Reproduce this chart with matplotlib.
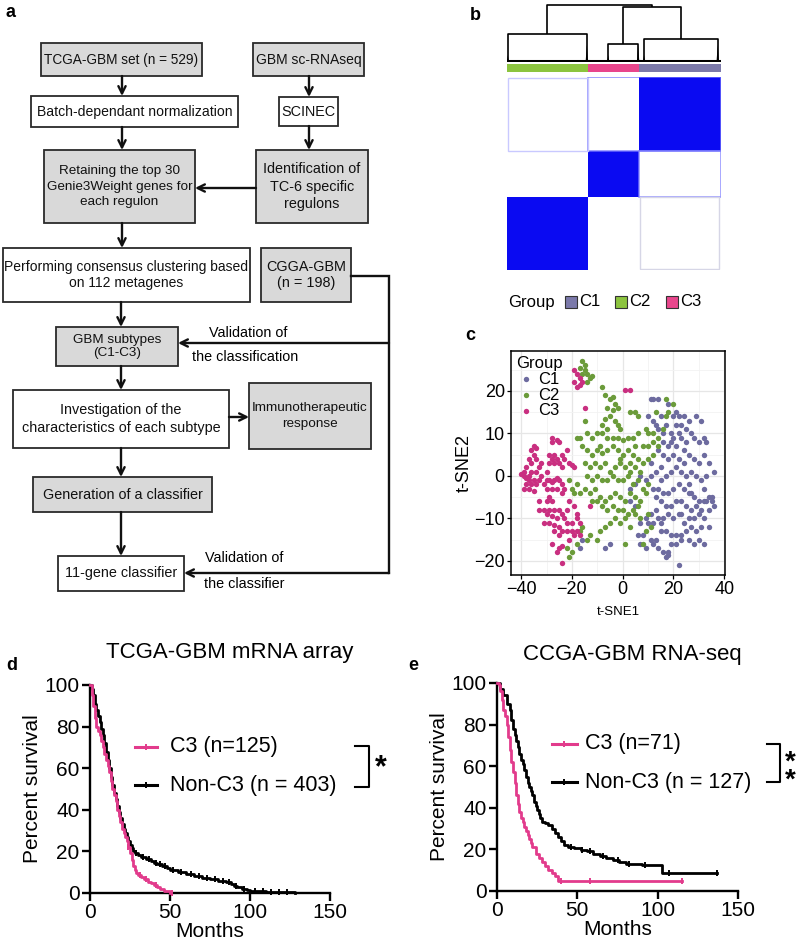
import numpy as np
import matplotlib
matplotlib.use('Agg')
import matplotlib.pyplot as plt
from matplotlib.patches import Rectangle
from matplotlib.colors import LinearSegmentedColormap

plt.rcParams['font.family'] = ['Liberation Sans', 'DejaVu Sans']

W, H = 800, 948

# ---------------- data ----------------
group_names = ['C1', 'C2', 'C3']
bar_colors = {'C1': '#7b79aa', 'C2': '#8cc43f', 'C3': '#e8468c'}
dot_colors = {'C1': '#6d6b9f', 'C2': '#6b9b3a', 'C3': '#c92f80'}

# consensus clustering (panel b), columns left -> right
cc_order = ['C2', 'C3', 'C1']
cc_sizes = [201, 125, 202]
cc_block = [[1, 0, 0],
            [0, 1, 0],
            [0, 0, 1]]
dend_node_h = {'C2': 0.49, 'C3': 0.32, 'C1': 0.40}
dend_child_pos = {'C2': (0.01, 0.98), 'C3': (0.39, 0.98), 'C1': (0.06, 0.96)}
dend_c3c1_h = 0.965
dend_root_h = 1.0

# t-SNE (panel c)
c1_tsne = [(11, 18), (12, 18), (14, 18), (18, 17), (10, 14), (12, 13), (13, 12), (15, 14), (17, 12), (20, 14),
           (21, 15), (22, 14), (24, 14), (26, 13), (21, 12), (19, 10), (20, 9), (22, 10), (23, 9), (25, 8),
           (27, 10), (28, 9), (30, 8), (32, 9), (33, 8), (16, 8), (18, 7), (14, 6), (16, 5), (18, 4),
           (20, 5), (22, 4), (24, 6), (26, 5), (28, 4), (30, 3), (32, 5), (34, 3), (36, 1), (33, 0),
           (31, -1), (29, 0), (27, 1), (25, 0), (23, 1), (21, 2), (19, 1), (17, 0), (15, 2), (13, 1),
           (11, 0), (9, -1), (7, 0), (5, -2), (3, -3), (12, -3), (14, -3), (16, -4), (18, -4), (20, -3),
           (22, -2), (24, -3), (26, -4), (28, -5), (30, -6), (32, -6), (34, -5), (35, -6), (36, -7), (34, -8),
           (31, -8), (29, -7), (27, -8), (25, -7), (23, -6), (21, -6), (19, -7), (17, -7), (15, -6), (13, -8),
           (11, -9), (9, -10), (7, -11), (10, -11), (12, -11), (14, -10), (16, -10), (18, -9), (20, -10), (22, -9),
           (24, -11), (26, -10), (28, -10), (30, -9), (32, -10), (34, -12), (31, -12), (29, -13), (27, -12), (25, -13),
           (23, -14), (21, -14), (19, -14), (17, -13), (15, -13), (13, -15), (11, -15), (8, -14), (6, -14), (7, -16),
           (9, -17), (12, -16), (14, -17), (16, -18), (18, -18), (19, -16), (21, -16), (23, -15), (26, -15), (28, -16),
           (30, -15), (32, -16), (17, -19), (18, -18.5), (22, -21), (-5, -16), (-7, -17), (-17, -17), (-16, -15), (3, -6),
           (5, -7), (13, -5), (15, -1), (11, 3), (14, 11), (16, 10), (19, 8), (23, 12), (25, 11), (31, 13),
           (29, 14), (24, 3), (26, -2), (32, -3), (27, -4), (35, -5), (33, -6), (21, 7), (23, -9), (15, -11)]
c2_tsne = [(-16, 27), (-15, 26), (-17, 25.5), (-15, 25), (-14, 24), (-13, 23), (-12, 23.5), (-14, 22), (-16, 24), (-8, 21),
           (-7, 19), (-5, 18), (-4, 18.5), (-3, 17), (-6, 16), (-4, 15.5), (-2, 16), (-5, 14), (-3, 13), (-7, 13.5),
           (-8, 12), (-6, 11), (-2, 12), (-1, 11), (3, 15), (5, 15), (6, 14), (-15, 13), (-14, 10), (-18, 9),
           (-17, 9), (-12, 9), (-10, 10), (-8, 10), (-6, 9), (-4, 9), (-2, 9), (0, 8.5), (2, 9), (4, 9),
           (6, 10), (9, 11), (10, 10), (12, 10), (14, 9), (16, 11), (17, 14), (18, 15), (20, 17), (17, 18),
           (13, 15), (8, 7), (10, 7), (12, 8), (14, 7), (-16, 7), (-14, 6), (-12, 5), (-10, 6), (-8, 5.5),
           (-6, 6), (-4, 7), (-2, 6), (0, 5), (2, 6), (4, 5), (6, 4), (8, 3), (10, 4), (12, 5),
           (-15, 3), (-13, 2), (-11, 3), (-9, 2), (-7, 3), (-5, 1), (-3, 2), (-1, 3), (1, 2), (3, 1),
           (5, 2), (7, 1), (-14, 0), (-12, -1), (-10, 0), (-8, -1), (-6, -1), (-4, 0), (-2, -1), (0, -1),
           (2, 0), (4, -2), (6, -1), (8, -3), (10, -2), (-18, -2), (-19, -4), (-17, -4), (-15, -3), (-13, -4),
           (-11, -3), (-9, -5), (-7, -6), (-5, -5), (-3, -4), (-1, -5), (1, -6), (3, -4), (5, -5), (7, -6),
           (9, -4), (-12, -6), (-10, -6), (-8, -7), (-6, -8), (-4, -7), (-2, -8), (0, -8), (2, -9), (4, -8),
           (6, -7), (-3, -10), (-1, -11), (1, -10), (3, -12), (5, -9), (7, -10), (-5, -11), (-7, -12), (-9, -13),
           (-10, -15), (-13, -14), (-16, -12), (-17, -13), (-14, -15), (-18, -16), (-20, -18), (-21, -19), (-22, -17), (-20, -3),
           (-21, -1), (1, -16), (10, -9), (11, -12), (9, -13), (8, -16), (-1, 4), (3, 3), (-9, 7), (5, 7)]
c3_tsne = [(-19, 25), (-18, 24), (-17, 23), (-19, 22), (-17, 21.5), (-16, 22), (-18, 21), (1, 20.3), (3, 20.3), (-15, 16),
           (-35, 7), (-34, 6.5), (-36, 6), (-35, 5), (-37, 4), (-36, 3), (-38, 2), (-39, 1), (-40, 0.5), (-39, 0),
           (-38, -0.5), (-37, 0), (-36, 1), (-37, -1), (-38, -2), (-36, -2), (-35, -1), (-39, -3), (-37, -3), (-35, -3.5),
           (-34, -2), (-33, -1), (-34, 1), (-33, 2), (-32, 3), (-34, 4), (-28, 9), (-28, 8), (-26, 8.5), (-25, 8),
           (-29, 5), (-28, 4), (-27, 5), (-26, 4), (-29, 3), (-27, 3), (-25, 3), (-24, 5), (-23, 4), (-22, 6),
           (-24, 2), (-21, 3), (-20, 2.5), (-19, 2), (-31, -2), (-30, -1), (-29, -1), (-28, -1.5), (-27, -1), (-26, -0.5),
           (-25, -1), (-30, -3), (-28, -3), (-26, -3), (-24, -2), (-24, -4), (-23, -3), (-33, -6), (-30, -6), (-29, -5),
           (-28, -6), (-31, -8), (-29, -8), (-27, -8), (-25, -8), (-33, -8), (-30, -9), (-28, -9.5), (-26, -10), (-24, -9),
           (-23, -10), (-22, -8), (-22, -11), (-20, -11), (-18, -10), (-31, -11), (-29, -11), (-27, -11.5), (-25, -12), (-24, -13),
           (-27, -13), (-25, -14), (-22, -13), (-20, -13), (-18, -13), (-17, -14), (-19, -14), (-21, -15), (-28, -16), (-25, -17),
           (-24, -16.5), (-26, -18), (-24, -20.5), (-19, -7), (-21, -6), (-18, -9), (-17, -11), (-13, -7), (-32, 0), (-30, 1)]

# survival, TCGA (panel d)
d_c3_t = [0, 1, 2, 3, 4, 5, 6, 7, 8, 9, 10, 11, 12, 13, 14, 15, 16, 17, 18, 19, 20, 21, 22, 23, 24, 25, 26, 27, 28,
          29, 30, 32, 34, 36, 38, 40, 42, 44, 46, 48, 50]
d_c3_s = [100, 95, 90, 84, 80, 78, 76, 73, 70, 67, 64, 61, 58, 54, 50, 47, 44, 40, 37, 34, 31, 29, 27, 25, 22, 19,
          16, 13, 11, 9.5, 8.5, 7.5, 6.5, 5.5, 5, 4, 3, 2, 1, 0.8, 0]
d_c3_cens = [24, 31, 35, 41, 51]
d_nc_t = [0, 1, 2, 3, 4, 5, 6, 7, 8, 9, 10, 11, 12, 13, 14, 15, 16, 17, 18, 19, 20, 21, 22, 23, 24, 25, 26, 27, 28,
          30, 32, 35, 38, 40, 42, 45, 48, 50, 55, 60, 65, 70, 75, 80, 85, 88, 90, 92, 95, 98, 100, 105, 110, 115,
          120, 125, 128]
d_nc_s = [100, 98, 95, 91, 88, 85, 82, 79, 76, 72, 68, 64, 60, 56, 52, 48, 45, 42, 39, 36, 33, 31, 29, 27, 25, 23,
          21.5, 20, 19, 18.2, 17.5, 16.5, 15.5, 14.5, 14, 13, 12, 11, 10, 9, 8, 7.2, 6.5, 6, 5.2, 4.5, 3.5, 2.8, 2,
          1.3, 1, 0.8, 0.7, 0.6, 0.5, 0.4, 0]
d_nc_cens = [29, 33, 37, 41, 44, 47, 52, 57, 63, 68, 73, 78, 83, 87, 91, 96, 103, 108, 113, 118, 123]

# survival, CGGA (panel e)
e_c3_t = [0, 1, 2, 3, 4, 5, 6, 7, 8, 9, 10, 11, 12, 13, 14, 15, 16, 17, 18, 19, 20, 21, 22, 24, 26, 28, 30, 32,
          34, 36, 38, 115]
e_c3_s = [100, 99, 96, 92, 87, 84, 80, 74, 68, 62, 57, 52, 46, 42, 38, 35, 33, 31, 29, 27, 25, 23, 21, 18, 16,
          14, 12, 10, 8.5, 7, 5, 5]
e_c3_cens = [40, 58, 115]
e_nc_t = [0, 2, 4, 6, 8, 9, 10, 11, 12, 13, 14, 15, 16, 17, 18, 19, 20, 21, 22, 23, 24, 25, 26, 27, 28, 30, 32,
          34, 36, 38, 40, 42, 44, 48, 52, 56, 60, 64, 68, 72, 76, 80, 85, 90, 95, 100, 103, 137]
e_nc_s = [100, 97, 94, 90, 87, 82, 78, 75, 72, 69, 66, 63, 61, 58, 55, 52, 50, 48, 46, 43, 41, 39, 37, 35, 33,
          32.5, 31.5, 30, 28, 26, 24, 22, 21, 20.5, 19.5, 19, 18, 17, 16, 15, 14, 13, 13, 12.5, 12.5, 12.5, 8.5, 8.5]
e_nc_cens = [46, 53, 58, 66, 75, 82, 92, 107, 137]


def px(l, t, r, b):
    return [l / W, 1 - b / H, (r - l) / W, (b - t) / H]


fig = plt.figure(figsize=(W / 100, H / 100), dpi=100)

# ---------------- a: flowchart (pixel coords) ----------------
ax0 = fig.add_axes([0, 0, 1, 1])
ax0.set_xlim(0, W)
ax0.set_ylim(H, 0)
ax0.axis('off')

GRAY = '#d9d9d9'
FS = 10.4


def box(x0, y0, x1, y1, text, fill, fs=FS, lsp=1.25):
    ax0.add_patch(Rectangle((x0, y0), x1 - x0, y1 - y0, facecolor=fill, edgecolor='#2a2a2a', lw=1.3))
    ax0.text((x0 + x1) / 2, (y0 + y1) / 2, text, ha='center', va='center', fontsize=fs,
             linespacing=lsp, color='#111111')


def arrow(x0, y0, x1, y1):
    ax0.annotate('', xy=(x1, y1), xytext=(x0, y0),
                 arrowprops=dict(arrowstyle='->', lw=1.7, color='#111111', shrinkA=0, shrinkB=0,
                                 mutation_scale=13))


box(41, 43, 202, 76, 'TCGA-GBM set (n = 529)', GRAY, fs=9.8)
box(253, 43, 364, 76, 'GBM sc-RNAseq', GRAY, fs=10)
box(31, 96, 238, 127, 'Batch-dependant normalization', 'white', fs=10.1)
box(279, 97, 338, 126, 'SCINEC', 'white')
box(44, 150, 195, 223, 'Retaining the top 30\nGenie3Weight genes for\neach regulon', GRAY, fs=9.7, lsp=1.4)
box(256, 150, 368, 223, 'Identification of\nTC-6 specific\nregulons', GRAY, lsp=1.35)
box(3, 248, 250, 302, 'Performing consensus clustering based\non 112 metagenes', 'white', fs=10.0)
box(261, 248, 351, 302, 'CGGA-GBM\n(n = 198)', GRAY)
box(56, 327, 178, 366, 'GBM subtypes\n(C1-C3)', GRAY, fs=9.7, lsp=1.1)
box(13, 390, 229, 448, 'Investigation of the\ncharacteristics of each subtype', 'white', lsp=1.45)
box(249, 383, 371, 449, 'Immunotherapeutic\nresponse', GRAY, fs=9.7, lsp=1.4)
box(33, 477, 212, 512, 'Generation of a classifier', GRAY)
box(58, 556, 184, 591, '11-gene classifier', 'white')

arrow(122, 76, 122, 96)
arrow(309, 76, 309, 97)
arrow(122, 127, 122, 150)
arrow(309, 126, 309, 150)
arrow(256, 188, 195, 188)
arrow(122, 223, 122, 248)
arrow(121, 302, 121, 327)
arrow(121, 366, 121, 390)
arrow(229, 417, 249, 417)
arrow(121, 448, 121, 477)
arrow(121, 512, 121, 556)
ax0.plot([351, 389, 389], [276, 276, 573], color='#111111', lw=1.7, solid_joinstyle='miter')
arrow(389, 343, 178, 343)
arrow(389, 573, 184, 573)
ax0.text(248, 333, 'Validation of', ha='center', va='center', fontsize=FS)
ax0.text(245, 357, 'the classification', ha='center', va='center', fontsize=FS)
ax0.text(244, 558, 'Validation of', ha='center', va='center', fontsize=FS)
ax0.text(244, 584, 'the classifier', ha='center', va='center', fontsize=FS)

# panel letters
for lab, (x, y) in {'a': (10, 12), 'b': (475, 15), 'c': (470, 335), 'd': (12, 665), 'e': (413, 665)}.items():
    ax0.text(x, y, lab, ha='center', va='center', fontsize=13, fontweight='bold')

# legend of panel b
ax0.text(508, 302, 'Group', ha='left', va='center', fontsize=12)
for g, x in zip(group_names, [565, 615, 666]):
    ax0.add_patch(Rectangle((x, 296), 12, 12, facecolor=bar_colors[g], edgecolor='#333333', lw=0.8))
    ax0.text(x + 14, 302, g, ha='left', va='center', fontsize=12)

# ---------------- b: consensus heatmap ----------------
N = sum(cc_sizes)
edges = np.concatenate([[0], np.cumsum(cc_sizes)])
cmap_b = LinearSegmentedColormap.from_list('wb', ['white', '#0a0af2'])

ax_hm = fig.add_axes(px(507, 77, 721, 270))
ax_hm.pcolormesh(edges, edges, np.array(cc_block), cmap=cmap_b, vmin=0, vmax=1)
ax_hm.set_xlim(0, N)
ax_hm.set_ylim(0, N)
ax_hm.axis('off')
# faint borders of low-consensus regions
ax_hm.add_patch(Rectangle((edges[1], edges[2]), N - edges[1], N - edges[2], fill=False,
                          edgecolor='#7777ff', lw=1.2, alpha=0.8))
ax_hm.add_patch(Rectangle((edges[0] + 2, edges[2]), cc_sizes[0] - 2, cc_sizes[2] - 3, fill=False,
                          edgecolor='#c9c9ff', lw=1.0))
ax_hm.add_patch(Rectangle((edges[2], edges[1]), cc_sizes[2], cc_sizes[1], fill=False,
                          edgecolor='#8080ff', lw=1.2, alpha=0.8))
ax_hm.add_patch(Rectangle((edges[2] + 2, edges[0] + 2), cc_sizes[2] - 6, cc_sizes[0] - 4, fill=False,
                          edgecolor='#d6d6e6', lw=1.0))

# annotation bar
ax_cb = fig.add_axes(px(507, 64, 721, 72))
ax_cb.barh(0, cc_sizes, left=edges[:-1], height=1, color=[bar_colors[g] for g in cc_order])
ax_cb.set_xlim(0, N)
ax_cb.set_ylim(-0.5, 0.5)
ax_cb.axis('off')

# dendrogram
ax_dg = fig.add_axes(px(507, 3, 721, 62))
ax_dg.set_xlim(0, N)
ax_dg.set_ylim(0, 1.035)
ax_dg.axis('off')
dk = dict(color='black', lw=1.2, solid_capstyle='butt')
centers = {}
for g, x0, n in zip(cc_order, edges[:-1], cc_sizes):
    f1, f2 = dend_child_pos[g]
    lx, rx = x0 + f1 * n, x0 + f2 * n
    h = dend_node_h[g]
    ax_dg.plot([lx, lx, rx, rx], [0.02, h, h, 0.02], **dk)
    ax_dg.plot([x0, x0 + n], [0.012, 0.012], color='black', lw=2.2)
    ax_dg.fill([rx - 3, rx, rx + 3], [0, 0.3, 0], color='black', lw=0)
    ax_dg.fill([lx - 3, lx, lx + 3], [0, 0.12, 0], color='black', lw=0)
    centers[g] = (lx + rx) / 2
ax_dg.plot([centers['C3'], centers['C3'], centers['C1'], centers['C1']],
           [dend_node_h['C3'], dend_c3c1_h, dend_c3c1_h, dend_node_h['C1']], **dk)
c31 = (centers['C3'] + centers['C1']) / 2
ax_dg.plot([centers['C2'], centers['C2'], c31, c31],
           [dend_node_h['C2'], dend_root_h, dend_root_h, dend_c3c1_h], **dk)

# ---------------- c: t-SNE ----------------
ax_c = fig.add_axes(px(511, 351, 725, 575))
for g, pts in zip(group_names, [c1_tsne, c2_tsne, c3_tsne]):
    pts = np.array(pts)
    ax_c.scatter(pts[:, 0], pts[:, 1], s=15, color=dot_colors[g], lw=0, label=g, zorder=3)
ax_c.set_xlim(-44, 40.3)
ax_c.set_ylim(-23.3, 29.4)
ax_c.set_xticks([-40, -20, 0, 20, 40])
ax_c.set_yticks([-20, -10, 0, 10, 20])
ax_c.set_xticks([-30, -10, 10, 30], minor=True)
ax_c.set_yticks([-15, -5, 5, 15, 25], minor=True)
ax_c.grid(which='major', color='#e6e6e6', lw=0.9)
ax_c.grid(which='minor', color='#f2f2f2', lw=0.6)
ax_c.set_axisbelow(True)
for sp in ax_c.spines.values():
    sp.set_linewidth(1.1)
ax_c.tick_params(which='major', length=3, width=0.9, labelsize=13, pad=1.5)
ax_c.tick_params(which='minor', length=0)
ax_c.set_ylabel('t-SNE2', fontsize=13, labelpad=1)
ax_c.set_xlabel('t-SNE1', fontsize=9.5)
ax_c.xaxis.set_label_coords(0.5, -0.14)
leg = ax_c.legend(title='Group', loc='upper left', frameon=False, fontsize=12, title_fontsize=12,
                  handletextpad=0.1, borderaxespad=0.1, labelspacing=0.05, borderpad=0.2,
                  handlelength=1.2, markerscale=1.0)
leg._legend_box.align = 'left'


# ---------------- d, e: survival ----------------
PINK = '#e23b8c'


def km(ax, t, s, cens, color):
    t = np.asarray(t, dtype=float)
    s = np.asarray(s, dtype=float)
    ax.step(t, s, where='post', color=color, lw=2.0, clip_on=False, zorder=3)
    idx = np.searchsorted(t, cens, side='right') - 1
    ax.plot(cens, s[idx], ls='none', marker='|', ms=5, mew=1.4, color=color, clip_on=False, zorder=3)


def surv_axes(rect):
    ax = fig.add_axes(rect)
    ax.spines[['top', 'right']].set_visible(False)
    ax.spines[['left', 'bottom']].set_linewidth(1.7)
    ax.set_xlim(0, 150)
    ax.set_ylim(0, 100)
    ax.set_xticks([0, 50, 100, 150])
    ax.set_yticks([0, 20, 40, 60, 80, 100])
    ax.tick_params(length=6, width=1.7, labelsize=15, pad=1.5)
    ax.set_xlabel('Months', fontsize=15, labelpad=0)
    ax.set_ylabel('Percent survival', fontsize=15, labelpad=2)
    return ax


def km_legend(ax, x0, x1, xt, ys, labels, colors):
    for y, lab, col in zip(ys, labels, colors):
        ax.plot([x0, x1], [y, y], color=col, lw=2.2, transform=ax.transAxes, clip_on=False)
        ax.plot([(x0 + x1) / 2], [y], marker='|', ms=5, mew=1.4, color=col,
                transform=ax.transAxes, clip_on=False)
        ax.text(xt, y, lab, transform=ax.transAxes, ha='left', va='center', fontsize=15.5)


def bracket(ax, x0, x1, y0, y1):
    ax.plot([x0, x1, x1, x0], [y0, y0, y1, y1], color='black', lw=1.5,
            transform=ax.transAxes, clip_on=False)


ax_d = surv_axes(px(90, 685, 330, 893))
km(ax_d, d_nc_t, d_nc_s, d_nc_cens, 'black')
km(ax_d, d_c3_t, d_c3_s, d_c3_cens, PINK)
ax_d.text(0.583, 1.154, 'TCGA-GBM mRNA array', transform=ax_d.transAxes, ha='center', va='center', fontsize=16)
km_legend(ax_d, 0.1875, 0.279, 0.333, [0.702, 0.519], ['C3 (n=125)', 'Non-C3 (n = 403)'], [PINK, 'black'])
bracket(ax_d, 1.104, 1.1625, 0.707, 0.51)
ax_d.text(1.21, 0.60, '*', transform=ax_d.transAxes, ha='center', va='center', fontsize=22, fontweight='bold')

ax_e = surv_axes(px(497, 683, 738, 891))
km(ax_e, e_nc_t, e_nc_s, e_nc_cens, 'black')
km(ax_e, e_c3_t, e_c3_s, e_c3_cens, PINK)
ax_e.text(0.56, 1.135, 'CCGA-GBM RNA-seq', transform=ax_e.transAxes, ha='center', va='center', fontsize=16)
km_legend(ax_e, 0.228, 0.332, 0.365, [0.707, 0.524], ['C3 (n=71)', 'Non-C3 (n = 127)'], [PINK, 'black'])
bracket(ax_e, 1.12, 1.174, 0.707, 0.524)
ax_e.text(1.216, 0.575, '*\n*', transform=ax_e.transAxes, ha='center', va='center', fontsize=20,
          fontweight='bold', linespacing=0.62)

fig.savefig('out.png', dpi=100)
